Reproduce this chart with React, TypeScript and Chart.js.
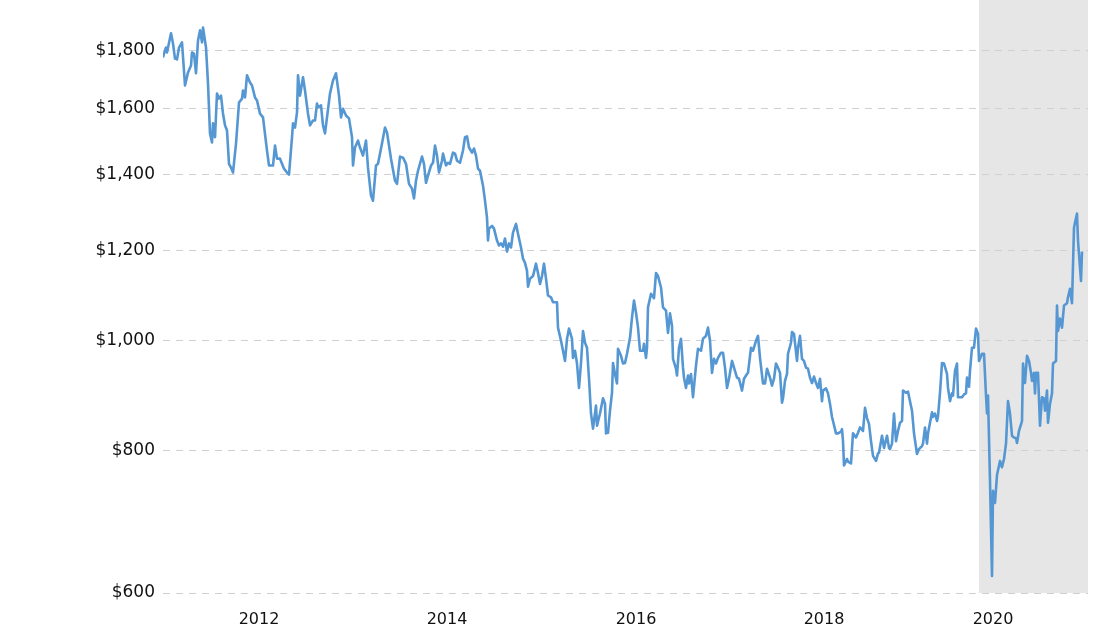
import React, { useEffect, useRef } from 'react';
import { Chart, registerables } from 'chart.js';

Chart.register(...registerables);

// x = sample index along the time axis, y = price in USD
const weeks = [
  0, 0.5, 1.5, 2, 4, 5, 6, 7, 8, 9.5, 11, 12.5, 14, 14.5, 15.5, 16.5, 17.5, 18.5, 19.5, 20,
  21.5, 22.5, 23.5, 24.5, 25, 26, 27, 28, 29, 30, 31, 32, 33, 34, 35, 36.5, 38, 39.5, 40, 41,
  42, 43.5, 44.5, 46, 47, 48.5, 50, 52, 53, 55, 56, 57, 58.5, 60.5, 62, 63,
  64.5, 65, 66, 67, 67.5, 68.5, 70, 71, 72.5, 73.5, 75, 76, 77, 77.5, 79, 80, 81, 82, 83.5, 85,
  86.5, 88, 89, 90, 91.5, 93, 94.5, 95, 96, 97.5, 98.5, 100, 101.5, 102.5, 104, 105, 106.5, 107.5, 109.5, 111,
  112, 114, 116, 117, 118.5, 120, 121.5, 123,
  124.5, 125.5, 126.5, 127.5, 129.5, 130.5, 131.5, 132.5, 134, 135, 136, 137, 138, 139.5, 140, 141.5, 142.5, 143.5, 145, 146,
  147, 148.5, 150, 151, 152, 153, 154.5, 155.5, 156.5, 157.5, 158.5, 160, 161, 162, 162.5, 163, 164.5, 165.5, 167, 168,
  169, 170, 171, 172, 173, 174, 175, 176.5, 177.5, 179, 180, 181, 182, 182.5, 183.5,
  185, 186.5, 187.5, 188.5, 189.5, 190.5, 191.5, 192.5, 194, 195, 197, 197.5, 199, 200, 201, 202, 203, 204.5, 205, 206,
  207, 208, 209, 210, 211, 212, 213, 214, 215, 216.5, 217, 218.5, 220, 221, 221.5, 222.5, 223.5, 224.5, 225, 226,
  227, 227.5, 229, 230, 231, 232, 233.5, 234.5, 235.5, 236.5, 237.5, 238.5, 240, 240.5, 241.5,
  242, 242.5, 244, 245.5, 246.5, 247.5, 249, 250, 251.5, 252.5, 253.5, 254.5, 255, 256.5, 257, 258, 259, 260, 260.5, 261.5,
  262.5, 263, 264, 265, 266.5, 267.5, 269, 270, 271.5, 272.5, 273.5, 274.5, 275.5, 276.5, 277.5, 279, 280, 281, 282, 283,
  284.5, 285.5, 287, 288, 289.5, 290.5, 292, 292.5, 294, 295, 296.5, 297.5, 298.5, 300, 301, 302, 303.5,
  304.5, 305.5, 306.5, 307.5, 308.5, 309.5, 310, 311, 312, 312.5, 314, 314.5, 315.5, 317, 317.5, 318.5, 319.5, 320.5, 321.5, 322.5,
  323.5, 324.5, 325.5, 326.5, 327.5, 328.5, 329.5, 330, 331.5, 332.5, 333.5, 334.5, 335, 336.5, 337.5, 339, 339.5, 340, 340.5, 342,
  342.5, 344, 345, 346.5, 347.5, 348.5, 350, 351, 352, 353, 354, 355, 356.5, 357.5, 358, 359.5, 360.5, 362, 363,
  363.5, 364.5, 365.5, 366.5, 367.5, 368.5, 369.5, 370, 371.5, 372.5, 374.5, 375.5, 377, 378, 379.5, 380, 381, 382, 382.5, 383.5,
  384.5, 385, 386, 387, 387.5, 388.5, 389.5, 390.5, 392, 392.5, 393.5, 394.5, 395, 396, 397, 397.5, 399.5, 400.5, 401.5, 402,
  403, 403.5, 404.5, 405.5, 406.5, 407.5, 408, 409.5, 410.5, 411.5, 412, 412.5, 413.5, 414.5, 415, 416, 417, 418.5, 419.5, 420.5,
  421.5, 422.5, 423.5, 424.5, 425.5, 426.5, 427, 428, 429.5, 430, 431, 432, 433, 434, 434.5, 435.5, 436, 436.5, 437.5, 438.5,
  439.5, 440.5, 441, 442, 442.5, 443.5, 444.5, 445, 446.5, 447, 447.5, 448.5, 449.5, 450.5, 452, 452.5, 453.5, 454.5, 455.5, 456,
  457, 457.5, 458.5, 459, 459.5,
];

const prices = [
  1775, 1789, 1811, 1793, 1864, 1826, 1771, 1768, 1811, 1830, 1677, 1722, 1746, 1793, 1789, 1719, 1837, 1875, 1830, 1886,
  1811, 1684, 1522, 1494, 1553, 1510, 1650, 1633, 1643, 1584, 1547, 1531, 1431, 1420, 1406, 1491, 1620, 1633, 1660, 1637,
  1712, 1687, 1677, 1637, 1627, 1584, 1572, 1470, 1426, 1426, 1485, 1446, 1446, 1417, 1406, 1400,
  1510, 1553, 1540, 1588, 1712, 1643, 1705, 1660, 1584, 1547, 1562, 1562, 1617, 1604, 1611, 1547, 1522, 1572, 1650, 1694,
  1719, 1643, 1572, 1600, 1578, 1569, 1510, 1426, 1479, 1500, 1479, 1455, 1500, 1420, 1342, 1328, 1426, 1431, 1491, 1540,
  1525, 1446, 1383, 1374, 1452, 1449, 1431, 1374,
  1361, 1334, 1383, 1411, 1452, 1431, 1377, 1397, 1426, 1434, 1485, 1455, 1406, 1440, 1461, 1426, 1434, 1431, 1464, 1461,
  1440, 1434, 1470, 1510, 1513, 1479, 1464, 1476, 1455, 1417, 1411, 1369, 1328, 1283, 1225, 1255, 1262, 1255, 1225, 1213,
  1218, 1210, 1230, 1198, 1218, 1208, 1245, 1267, 1242, 1208, 1181, 1171, 1152, 1116, 1134,
  1140, 1169, 1147, 1122, 1140, 1169, 1134, 1096, 1092, 1081, 1081, 1027, 1000, 980, 960, 1004, 1025, 1004, 966, 980,
  955, 909, 956, 1020, 996, 986, 926, 863, 837, 877, 842, 863, 890, 880, 829, 830, 868, 900, 956, 935,
  917, 984, 970, 955, 956, 974, 1006, 1048, 1085, 1059, 1027, 980, 980, 994, 966,
  986, 1070, 1100, 1090, 1147, 1140, 1114, 1070, 1063, 1016, 1057, 1031, 964, 945, 932, 986, 1004, 947, 928, 909,
  932, 917, 935, 892, 951, 984, 980, 1004, 1010, 1027, 1000, 937, 964, 955, 966, 976, 976, 947, 909, 926,
  960, 947, 928, 926, 904, 926, 935, 937, 986, 980, 1000, 1010, 966, 917, 917, 945, 928,
  913, 926, 955, 947, 937, 882, 890, 922, 935, 974, 996, 1018, 1014, 960, 986, 1010, 964, 960, 947, 945,
  928, 918, 930, 918, 909, 926, 885, 904, 908, 899, 880, 857, 850, 829, 829, 832, 836, 816, 777, 787,
  783, 780, 829, 822, 830, 839, 833, 873, 855, 845, 816, 792, 784, 796, 797, 825, 805, 825, 805,
  803, 812, 863, 816, 833, 847, 850, 904, 900, 902, 868, 829, 795, 803, 808, 812, 839, 812, 829, 847,
  865, 857, 863, 850, 858, 900, 956, 955, 935, 909, 885, 899, 895, 941, 955, 892, 892, 897, 899, 928,
  911, 941, 986, 986, 1025, 1014, 960, 974, 974, 895, 863, 895, 753, 621, 738, 720, 762, 784, 774, 787,
  812, 885, 863, 825, 822, 821, 813, 833, 850, 955, 918, 970, 960, 937, 922, 937, 899, 937, 937, 842,
  892, 890, 868, 904, 847, 880, 899, 955, 960, 1074, 1020, 1046, 1027, 1074, 1079, 1092, 1111, 1079, 1257, 1270,
  1294, 1225, 1159, 1129, 1198,
];

const xRange = [0, 462.5];
const yearTickWeeks = [48, 142, 236.5, 330.5, 415];
const yearLabels = ['2012', '2014', '2016', '2018', '2020'];
const priceTicks = [600, 800, 1000, 1200, 1400, 1600, 1800];
const priceRange = [600, 1994];
const recessionRange = [408, 462.5];

export default function App() {
  const ref = useRef<HTMLCanvasElement>(null);

  useEffect(() => {
    if (!ref.current) return;
    const shade = {
      id: 'recessionShade',
      beforeDraw(chart: any) {
        const { ctx, chartArea, scales } = chart;
        const x0 = scales.x.getPixelForValue(recessionRange[0]);
        const x1 = scales.x.getPixelForValue(recessionRange[1]);
        ctx.save();
        ctx.fillStyle = '#e6e6e6';
        ctx.fillRect(x0, chartArea.top, x1 - x0, chartArea.bottom - chartArea.top);
        ctx.restore();
      },
    };
    const chart = new Chart(ref.current, {
      type: 'line',
      data: {
        datasets: [
          {
            data: weeks.map((w, i) => ({ x: w, y: prices[i] })),
            borderColor: '#5597d3',
            borderWidth: 2.6,
            pointRadius: 0,
            tension: 0,
            fill: false,
            borderJoinStyle: 'round',
          },
        ],
      },
      options: {
        animation: false,
        responsive: false,
        devicePixelRatio: 1,
        layout: { padding: { left: 0, right: 8, top: 0, bottom: 0 } },
        plugins: { legend: { display: false }, tooltip: { enabled: false } },
        scales: {
          x: {
            type: 'linear',
            min: xRange[0],
            max: xRange[1],
            afterBuildTicks: (s: any) => {
              s.ticks = yearTickWeeks.map((v) => ({ value: v }));
            },
            afterFit: (s: any) => {
              s.height = 36;
              s.paddingLeft = 0;
              s.paddingRight = 0;
            },
            grid: { display: false },
            border: { display: false },
            ticks: {
              padding: 9,
              maxRotation: 0,
              autoSkip: false,
              color: '#111',
              font: { family: 'DejaVu Sans', size: 16 },
              callback: (_v: any, i: number) => yearLabels[i] ?? '',
            },
          },
          y: {
            type: 'logarithmic',
            min: priceRange[0],
            max: priceRange[1],
            afterBuildTicks: (s: any) => {
              s.ticks = priceTicks.map((v) => ({ value: v }));
            },
            afterFit: (s: any) => {
              s.width = 163;
              s.paddingTop = 0;
              s.paddingBottom = 0;
            },
            grid: { color: '#d0d0d0', drawTicks: false, lineWidth: 1 },
            border: { display: false, dash: [7, 6] },
            ticks: {
              padding: 8,
              autoSkip: false,
              color: '#111',
              font: { family: 'DejaVu Sans', size: 17 },
              callback: (v: any) => '$' + Number(v).toLocaleString('en-US'),
            },
          },
        },
      },
      plugins: [shade],
    } as any);
    return () => chart.destroy();
  }, []);

  return (
    <div style={{ position: 'absolute', left: 0, top: 0, width: 1096, height: 629, background: '#fff' }}>
      <canvas ref={ref} width={1096} height={629} style={{ display: 'block', width: 1096, height: 629 }} />
    </div>
  );
}
